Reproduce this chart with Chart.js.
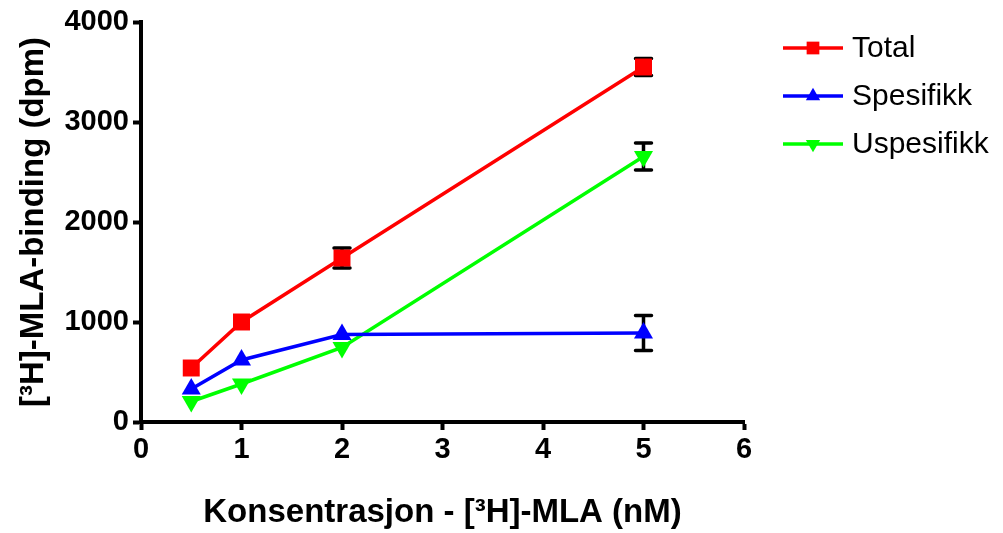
<!DOCTYPE html>
<html>
<head>
<meta charset="utf-8">
<script src="https://cdn.jsdelivr.net/npm/chart.js@4"></script>
<style>
    html, body { margin: 0; padding: 0; background: #fff; }
    #wrap { width: 1003px; height: 533px; }
</style>
</head>
<body>
<div id="wrap"><canvas id="chart"></canvas></div>
<script>
// concentration (nM)
const concentrations = [0.5, 1, 2, 5];

// binding (dpm), mean and SEM
const total = [540, 1000, 1640, 3550];
const totalErr = [0, 0, 100, 85];
const spesifikk = [330, 620, 875, 890];
const spesifikkErr = [0, 0, 0, 175];
const uspesifikk = [205, 380, 745, 2655];
const uspesifikkErr = [0, 0, 0, 135];

const xTicks = [0, 1, 2, 3, 4, 5, 6];
const yTicks = [0, 1000, 2000, 3000, 4000];

const FONT = "'Liberation Sans', Arial, sans-serif";

function toPoints(values) {
    return values.map((v, i) => ({ x: concentrations[i], y: v }));
}

// vertical error bars with caps, drawn under the markers
const errorBars = {
    id: 'errorBars',
    beforeDatasetsDraw(chart) {
        const ctx = chart.ctx;
        const xs = chart.scales.x, ys = chart.scales.y;
        ctx.save();
        ctx.strokeStyle = '#000';
        ctx.lineWidth = 3.5;
        ctx.lineCap = 'round';
        chart.data.datasets.forEach(ds => {
            (ds.errors || []).forEach((e, i) => {
                if (!e) return;
                const p = ds.data[i];
                const px = xs.getPixelForValue(p.x);
                const top = ys.getPixelForValue(p.y + e);
                const bot = ys.getPixelForValue(p.y - e);
                ctx.beginPath();
                ctx.moveTo(px, top); ctx.lineTo(px, bot);
                ctx.moveTo(px - 8, top); ctx.lineTo(px + 8, top);
                ctx.moveTo(px - 8, bot); ctx.lineTo(px + 8, bot);
                ctx.stroke();
            });
        });
        ctx.restore();
    }
};

// legend on the right: short line with the marker on it
const lineLegend = {
    id: 'lineLegend',
    afterDraw(chart) {
        const ctx = chart.ctx;
        ctx.save();
        chart.data.datasets.forEach((ds, i) => {
            const y = 48 + i * 48;
            ctx.strokeStyle = ds.borderColor;
            ctx.lineWidth = 3.5;
            ctx.beginPath();
            ctx.moveTo(783, y); ctx.lineTo(843, y);
            ctx.stroke();
            ctx.fillStyle = ds.borderColor;
            Chart.helpers.drawPoint(ctx, {
                pointStyle: ds.pointStyle,
                rotation: ds.pointRotation || 0,
                radius: ds.pointRadius * 0.75,
                borderWidth: 0
            }, 813, y);
            ctx.fillStyle = '#000';
            ctx.font = '30px ' + FONT;
            ctx.textBaseline = 'middle';
            ctx.fillText(ds.label, 852, y + 1);
        });
        ctx.restore();
    }
};

function series(label, values, errors, color, style, radius, rotation) {
    return {
        label: label,
        data: toPoints(values),
        errors: errors,
        borderColor: color,
        backgroundColor: color,
        borderWidth: 3.5,
        pointStyle: style,
        pointRadius: radius,
        pointHoverRadius: radius,
        pointRotation: rotation,
        pointBorderWidth: 0,
        tension: 0
    };
}

new Chart(document.getElementById('chart'), {
    type: 'line',
    data: {
        datasets: [
            series('Total', total, totalErr, '#ff0000', 'rect', 12, 0),
            series('Spesifikk', spesifikk, spesifikkErr, '#0000ff', 'triangle', 11, 0),
            series('Uspesifikk', uspesifikk, uspesifikkErr, '#00ff00', 'triangle', 11, 180)
        ]
    },
    options: {
        responsive: true,
        maintainAspectRatio: false,
        animation: false,
        events: [],
        layout: { padding: { left: 0, top: 22, right: 259, bottom: 0 } },
        plugins: {
            legend: { display: false },
            tooltip: { enabled: false }
        },
        scales: {
            x: {
                type: 'linear',
                min: 0,
                max: 6,
                afterFit: s => { s.height = 111; },
                afterBuildTicks: s => { s.ticks = xTicks.map(v => ({ value: v })); },
                border: { display: true, color: '#000', width: 4 },
                grid: { drawOnChartArea: false, drawTicks: true, tickLength: 8, tickWidth: 4, color: '#000' },
                ticks: {
                    autoSkip: false,
                    maxRotation: 0,
                    color: '#000',
                    padding: 3,
                    callback: v => String(v),
                    font: { family: FONT, size: 29, weight: 'bold' }
                },
                title: {
                    display: true,
                    text: 'Konsentrasjon - [³H]-MLA (nM)',
                    color: '#000',
                    padding: { top: 0, bottom: 0 },
                    font: { family: FONT, size: 33, weight: 'bold' }
                }
            },
            y: {
                type: 'linear',
                min: 0,
                max: 4000,
                afterFit: s => { s.width = 141; },
                afterBuildTicks: s => { s.ticks = yTicks.map(v => ({ value: v })); },
                border: { display: true, color: '#000', width: 4 },
                grid: { drawOnChartArea: false, drawTicks: true, tickLength: 8, tickWidth: 4, color: '#000' },
                ticks: {
                    autoSkip: false,
                    color: '#000',
                    padding: 4,
                    callback: v => String(v),
                    font: { family: FONT, size: 29, weight: 'bold' }
                },
                title: {
                    display: true,
                    text: '[³H]-MLA-binding (dpm)',
                    color: '#000',
                    padding: { top: 14, bottom: 0 },
                    font: { family: FONT, size: 33, weight: 'bold' }
                }
            }
        }
    },
    plugins: [errorBars, lineLegend]
});
</script>
</body>
</html>
